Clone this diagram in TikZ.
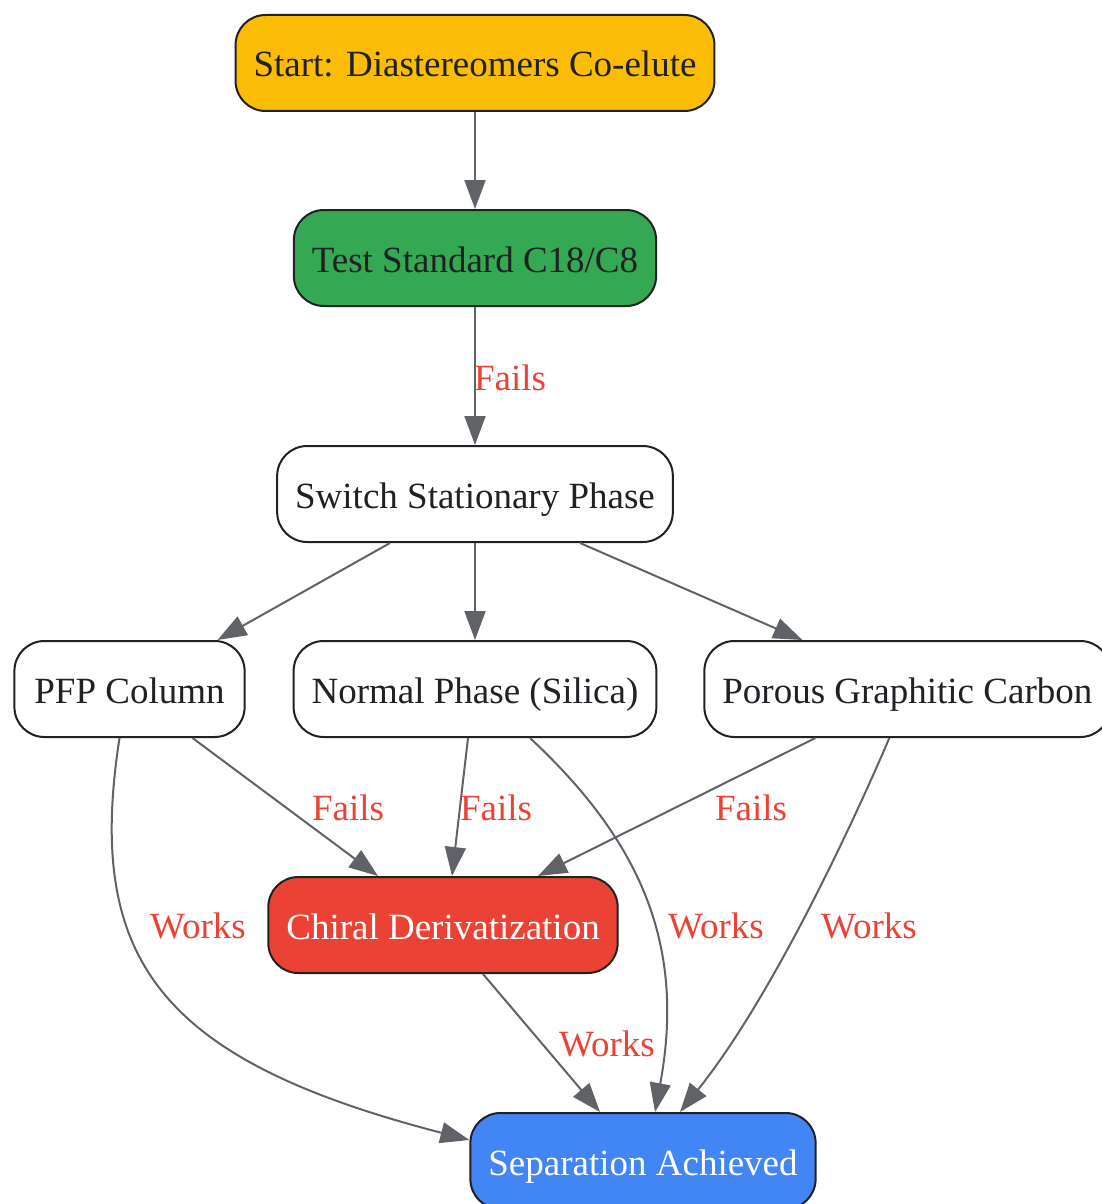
\documentclass[tikz,border=0pt]{standalone}
\usepackage{fontspec}
\setmainfont{Liberation Serif}
\usetikzlibrary{positioning,arrows.meta}
\definecolor{ink}{HTML}{202124}
\definecolor{edgegray}{HTML}{5F6368}
\definecolor{gyellow}{HTML}{FBBC05}
\definecolor{ggreen}{HTML}{34A853}
\definecolor{gred}{HTML}{EA4335}
\definecolor{gblue}{HTML}{4285F4}

\begin{document}
\begin{tikzpicture}[
    x=1pt, y=-1pt,
    node distance=97pt,
    box/.style={rectangle, draw=ink, fill=white, line width=2pt, minimum height=96pt, inner xsep=18pt, text height=28pt, text depth=0pt, rounded corners=30pt, text=ink, font=\fontsize{37}{44}\selectfont},
    lbl/.style={text=gred, font=\fontsize{37}{44}\selectfont},
    arrow/.style={-{Triangle[length=29pt,width=21pt]}, line width=2pt, draw=edgegray}
]
    \useasboundingbox (0,0) rectangle (1102,1204);
    \node[box, fill=gyellow] (start) at (475,63) {Start: Diastereomers Co-elute};
    \node[box, fill=ggreen, below=of start] (standard) {Test Standard C18/C8};
    \node[box, below=138pt of standard] (switch) {Switch Stationary Phase};
    \node[box, below=of switch] (normal) {Normal Phase (Silica)};
    \node[box, left=47pt of normal, inner xsep=20pt] (pfp) {PFP Column};
    \node[box, right=46pt of normal] (pgc) {Porous Graphitic Carbon};
    \node[box, fill=gred, text=white, below=138pt of normal, xshift=-32pt] (chiral) {Chiral Derivatization};
    \node[box, fill=gblue, text=white, below=138pt of chiral, xshift=200pt] (sep) {Separation Achieved};

    \draw[arrow] (start) -- (standard);
    \draw[arrow] (standard) -- (switch);
    \draw[arrow] ([xshift=-85pt]switch.south) -- ([xshift=88pt]pfp.north);
    \draw[arrow] (switch) -- (normal);
    \draw[arrow] ([xshift=105pt]switch.south) -- ([xshift=-105pt]pgc.north);
    \draw[arrow] ([xshift=63pt]pfp.south) -- ([xshift=-65pt]chiral.north);
    \draw[arrow] ([xshift=-7pt]normal.south) -- ([xshift=9pt]chiral.north);
    \draw[arrow] ([xshift=-92pt]pgc.south) -- ([xshift=95pt]chiral.north);
    \draw[arrow] ([xshift=-10pt]pfp.south) .. controls (85,960) and (160,1060) .. ([yshift=21pt]sep.west);
    \draw[arrow] ([xshift=55pt]normal.south) .. controls (645,845) and (685,950) .. ([xshift=12pt]sep.north);
    \draw[arrow] ([xshift=-18pt]pgc.south) .. controls (850,830) and (770,1000) .. ([xshift=37pt]sep.north);
    \draw[arrow] ([xshift=40pt]chiral.south) -- ([xshift=-43pt]sep.north);

    \node[lbl] (lfail1) at (510,378) {Fails};
    \node[lbl] (lfail2) at (348,808) {Fails};
    \node[lbl] (lfail3) at (496,808) {Fails};
    \node[lbl] (lfail4) at (751,808) {Fails};
    \node[lbl] (lwork1) at (198,926) {Works};
    \node[lbl] (lwork2) at (716,926) {Works};
    \node[lbl] (lwork3) at (869,926) {Works};
    \node[lbl] (lwork4) at (607,1044) {Works};
\end{tikzpicture}
\end{document}
